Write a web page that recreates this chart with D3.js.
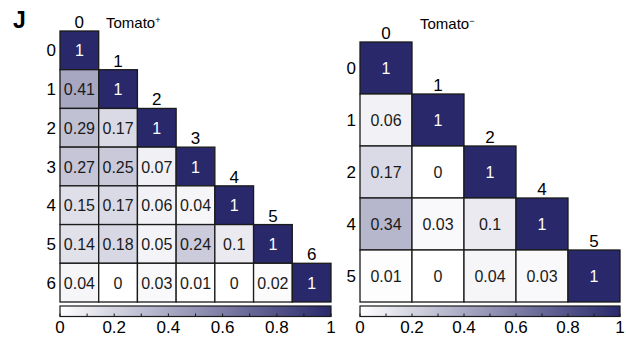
<!DOCTYPE html>
<html>
<head>
<meta charset="utf-8">
<script src="https://cdn.jsdelivr.net/npm/d3@7"></script>
<style>
  body { margin: 0; background: #fff; }
  text { font-family: "Liberation Sans", Arial, sans-serif; }
</style>
</head>
<body>
<div id="chart"></div>
<script>
// Tomato+ clusters and lower-triangle values (row by row)
var posLabels = ["0", "1", "2", "3", "4", "5", "6"];
var posValues = [
  [1],
  [0.41, 1],
  [0.29, 0.17, 1],
  [0.27, 0.25, 0.07, 1],
  [0.15, 0.17, 0.06, 0.04, 1],
  [0.14, 0.18, 0.05, 0.24, 0.1, 1],
  [0.04, 0, 0.03, 0.01, 0, 0.02, 1]
];
// Tomato- clusters
var negLabels = ["0", "1", "2", "4", "5"];
var negValues = [
  [1],
  [0.06, 1],
  [0.17, 0, 1],
  [0.34, 0.03, 0.1, 1],
  [0.01, 0, 0.04, 0.03, 1]
];
var cbTicks = [0, 0.2, 0.4, 0.6, 0.8, 1];
var cbMinor = [0.1, 0.3, 0.5, 0.7, 0.9];

var W = 626, H = 337;
var dark = "#28286b";
var color = d3.scaleLinear().domain([0, 1]).range(["#ffffff", dark]).interpolate(d3.interpolateRgb);

var svg = d3.select("#chart").append("svg").attr("width", W).attr("height", H);
var defs = svg.append("defs");
var grad = defs.append("linearGradient").attr("id", "cbgrad");
d3.range(0, 1.01, 0.1).forEach(function(t) {
  grad.append("stop").attr("offset", t).attr("stop-color", color(t));
});

svg.append("text").attr("x", 13).attr("y", 28).style("font-size", "23px")
  .style("font-weight", "bold").text("J");

function drawMatrix(labels, values, x0, x1, y0, title, sign, titleX, titleY) {
  var n = labels.length;
  var x = d3.scaleBand().domain(d3.range(n)).range([x0, x1]);
  var y = d3.scaleBand().domain(d3.range(n)).range([y0, y0 + (x1 - x0)]);
  var cells = [];
  values.forEach(function(row, i) {
    row.forEach(function(v, j) { cells.push({ i: i, j: j, v: v }); });
  });
  var g = svg.append("g");
  g.selectAll("rect").data(cells).enter().append("rect")
    .attr("x", function(d) { return x(d.j); })
    .attr("y", function(d) { return y(d.i); })
    .attr("width", x.bandwidth()).attr("height", y.bandwidth())
    .attr("fill", function(d) { return color(d.v); })
    .attr("stroke", "#1a1a1a").attr("stroke-width", 1.3);
  g.selectAll("text.val").data(cells).enter().append("text").attr("class", "val")
    .attr("x", function(d) { return x(d.j) + x.bandwidth() / 2; })
    .attr("y", function(d) { return y(d.i) + y.bandwidth() / 2 + 6; })
    .attr("text-anchor", "middle").style("font-size", "16px")
    .attr("fill", function(d) { return d.v > 0.6 ? "#ffffff" : "#1a1a1a"; })
    .text(function(d) { return d.v; });
  // row labels
  g.selectAll("text.row").data(labels).enter().append("text").attr("class", "row")
    .attr("x", x0 - 4).attr("y", function(d, i) { return y(i) + y.bandwidth() / 2 + 6; })
    .attr("text-anchor", "end").style("font-size", "17px").text(function(d) { return d; });
  // column labels above diagonal
  g.selectAll("text.col").data(labels).enter().append("text").attr("class", "col")
    .attr("x", function(d, i) { return x(i) + x.bandwidth() / 2; })
    .attr("y", function(d, i) { return y(i) - 3; })
    .attr("text-anchor", "middle").style("font-size", "17px").text(function(d) { return d; });
  var t = g.append("text").attr("x", titleX).attr("y", titleY).style("font-size", "15px");
  t.append("tspan").text(title);
  t.append("tspan").attr("dy", -5).style("font-size", "9px").text(sign);

  // colorbar
  var cbY = 306, cbH = 10.5;
  var cx = d3.scaleLinear().domain([0, 1]).range([x0, x1]);
  g.append("rect").attr("x", x0).attr("y", cbY).attr("width", x1 - x0).attr("height", cbH)
    .attr("fill", "url(#cbgrad)").attr("stroke", "#1a1a1a").attr("stroke-width", 1.2);
  g.selectAll("line.tk").data(cbTicks.concat(cbMinor)).enter().append("line").attr("class", "tk")
    .attr("x1", function(d) { return cx(d); }).attr("x2", function(d) { return cx(d); })
    .attr("y1", cbY + cbH).attr("y2", cbY + cbH - 3)
    .attr("stroke", "#1a1a1a").attr("stroke-width", 1);
  g.selectAll("text.cb").data(cbTicks).enter().append("text").attr("class", "cb")
    .attr("x", function(d) { return cx(d); }).attr("y", 333)
    .attr("text-anchor", "middle").style("font-size", "17px")
    .text(function(d) { return d; });
}

drawMatrix(posLabels, posValues, 60, 331, 31, "Tomato", "+", 106, 28);
drawMatrix(negLabels, negValues, 360, 620, 42, "Tomato", "\u2212", 420, 29);
</script>
</body>
</html>
